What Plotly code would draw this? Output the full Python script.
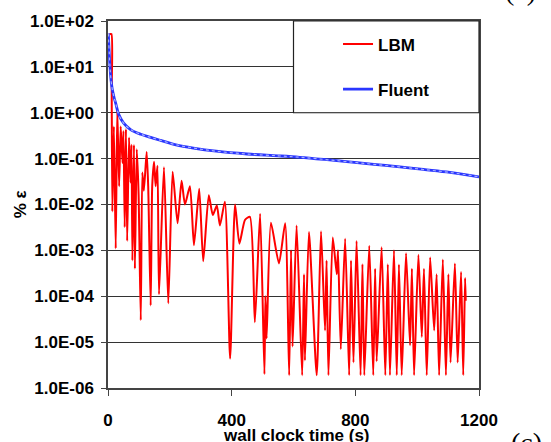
import plotly.graph_objects as go

# ---- data ----
lbm_t = [5, 11, 12, 14, 19, 25, 30, 36, 41, 47, 50, 54, 58, 62, 68, 73, 76, 79, 84, 87,
         93, 99, 106, 111, 116, 125, 130, 138, 143, 149, 154, 160, 165, 181, 195, 209,
         225, 238, 249, 265, 278, 295, 308, 326, 339, 352, 362, 378, 395, 411, 425, 443,
         459, 475, 492, 506, 509, 513, 527, 553, 573, 586, 592, 597, 610, 628, 634, 637,
         650, 675, 689, 702, 707, 713, 727, 740, 744, 753, 767, 780, 786, 794, 804, 817,
         823, 829, 845, 858, 864, 869, 885, 897, 905, 912, 925, 934, 941, 950, 964, 977,
         983, 990, 1004, 1015, 1022, 1031, 1042, 1055, 1063, 1071, 1083, 1093, 1101, 1108,
         1122, 1131, 1142, 1149, 1155, 1157]
lbm_v = [52, 52, 3, 0.007, 0.5, 0.0011, 1.17, 0.025, 0.5, 0.08, 0.4, 0.0032, 0.44, 0.0016,
         0.29, 0.03, 0.2, 0.0006, 0.2, 0.0004, 0.16, 0.016, 3e-5, 0.05, 0.02, 0.14, 0.025,
         6.3e-5, 0.025, 0.085, 0.025, 0.07, 1.1e-4, 0.065, 7e-5, 0.052, 0.0039, 0.033, 0.01,
         0.025, 0.0013, 0.022, 0.00058, 0.016, 0.0059, 0.0095, 0.0035, 0.0115, 4.4e-6, 0.01,
         0.0014, 0.0046, 0.0054, 2.7e-5, 0.0063, 2e-6, 1e-4, 1.2e-5, 0.004, 0.00052, 0.0039,
         1.9e-6, 0.001, 8e-6, 0.0035, 1.9e-6, 3e-4, 4e-6, 0.0025, 1.9e-6, 0.0026, 1.8e-5,
         6e-4, 1.9e-6, 0.0019, 3e-4, 0.001, 7e-6, 0.0018, 1.9e-6, 6e-4, 3.6e-6, 0.0016,
         1.9e-6, 5e-4, 1.9e-6, 0.00126, 1.9e-6, 4e-4, 3.8e-6, 0.00117, 1.9e-6, 5e-4, 1.9e-6,
         0.001, 1.9e-6, 0.00049, 1.9e-6, 0.00087, 8.5e-6, 4e-4, 1.9e-6, 0.0008, 1.3e-5, 4e-4,
         1.9e-6, 0.0007, 1.8e-5, 3e-4, 1.9e-6, 0.00063, 1.9e-6, 3e-4, 3.6e-6, 0.00052,
         3.6e-6, 0.00034, 1.9e-6, 0.00025, 8e-5]

fluent_t = [1, 6.5, 10, 14, 20, 25, 35, 50, 73, 106, 138, 170, 220, 276, 350, 450, 550,
            620, 700, 780, 860, 944, 1020, 1106, 1200]
fluent_v = [54, 10, 5, 3.2, 2.1, 1.6, 0.91, 0.6, 0.43, 0.34, 0.29, 0.25, 0.2, 0.17, 0.145,
            0.126, 0.115, 0.107, 0.096, 0.085, 0.075, 0.066, 0.058, 0.05, 0.04]

x_ticks = [0, 400, 800, 1200]
y_tickvals = [1e2, 1e1, 1e0, 1e-1, 1e-2, 1e-3, 1e-4, 1e-5, 1e-6]
y_ticktext = ["1.0E+02", "1.0E+01", "1.0E+00", "1.0E-01", "1.0E-02",
              "1.0E-03", "1.0E-04", "1.0E-05", "1.0E-06"]

FONT = "Liberation Sans"
fig = go.Figure()

fig.add_trace(go.Scatter(x=lbm_t, y=lbm_v, mode="lines", name="<b>LBM</b>",
                         line=dict(color="#ff0000", width=2, shape="spline", smoothing=0.6),
                         legendgroup="a"))
fig.add_trace(go.Scatter(x=fluent_t, y=fluent_v, mode="lines", name="<b>Fluent</b>",
                         line=dict(color="#2a36ff", width=2.8, shape="spline"), legendgroup="b"))
fig.add_trace(go.Scatter(x=fluent_t, y=fluent_v, mode="lines", showlegend=False,
                         line=dict(color="#a8b2ff", width=1.2, dash="dot", shape="spline"),
                         hoverinfo="skip"))

fig.update_layout(
    width=551, height=442,
    margin=dict(l=108, r=72, t=21, b=51),
    paper_bgcolor="white", plot_bgcolor="white",
    font=dict(family=FONT, size=17, color="black"),
    showlegend=True,
    legend=dict(x=0.62, y=0.985, xanchor="left", yanchor="top",
                bgcolor="rgba(0,0,0,0)", borderwidth=0,
                tracegroupgap=20, traceorder="grouped",
                font=dict(family=FONT, size=17, color="black")),
    xaxis=dict(range=[0, 1200], tickvals=x_ticks, showgrid=False, zeroline=False,
               showline=True, linecolor="#444", linewidth=1.5, mirror=True,
               ticks="outside", ticklen=6, tickcolor="#444",
               tickfont=dict(family=FONT, size=17, color="black", weight="bold"),
               ticklabelstandoff=10),
    yaxis=dict(type="log", range=[-6, 2], tickvals=y_tickvals, ticktext=y_ticktext,
               showgrid=True, gridcolor="#333", gridwidth=1, zeroline=False,
               showline=True, linecolor="#444", linewidth=1.5, mirror=True,
               ticks="outside", ticklen=5, tickcolor="#444",
               tickfont=dict(family=FONT, size=17, color="black", weight="bold"),
               ticklabelstandoff=4),
    shapes=[dict(type="rect", xref="paper", yref="paper", x0=0.5, x1=1.0, y0=0.75, y1=1.0,
                 fillcolor="white", line=dict(color="#222", width=1.2), layer="above")],
    annotations=[
        dict(text="<b>wall clock time (s)</b>", xref="paper", yref="paper",
             x=0.507, y=-0.097, xanchor="center", yanchor="top", showarrow=False,
             font=dict(family=FONT, size=17, color="black")),
        dict(text="<b>% ε</b>", xref="paper", yref="paper", x=-0.235, y=0.5,
             xanchor="center", yanchor="middle", textangle=-90, showarrow=False,
             font=dict(family=FONT, size=17, color="black")),
        dict(text="(c)", xref="paper", yref="paper", x=1.08, y=-0.1,
             xanchor="left", yanchor="top", showarrow=False,
             font=dict(family="Liberation Serif", size=28, color="black")),
        dict(text="(c)", xref="paper", yref="paper", x=1.065, y=1.035,
             xanchor="left", yanchor="bottom", showarrow=False,
             font=dict(family="Liberation Serif", size=28, color="black")),
    ],
)

fig.write_html("out.html")
